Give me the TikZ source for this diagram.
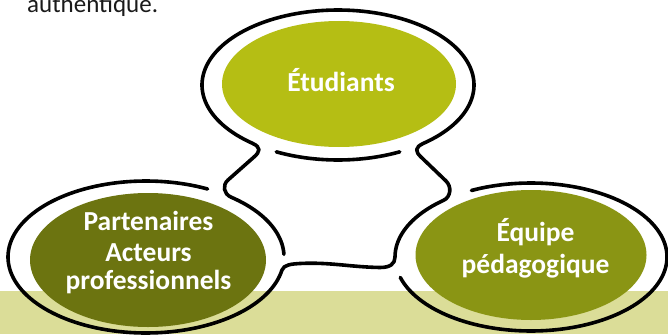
\documentclass[tikz,border=0pt]{standalone}
\usepackage{fontspec}
\setmainfont{Carlito}
\usetikzlibrary{shapes.geometric}
\definecolor{etuC}{RGB}{181,190,20}
\definecolor{parC}{RGB}{108,116,16}
\definecolor{equC}{RGB}{138,149,20}
\definecolor{bandC}{RGB}{219,221,152}
\definecolor{inkC}{RGB}{26,26,26}
\begin{document}
\begin{tikzpicture}[x=1pt,y=-1pt,
  ringline/.style={line width=3.6pt, line cap=round, line join=round, draw=black},
  blob/.style={ellipse, inner sep=0pt, draw=none},
  lbl/.style={text=white, font=\bfseries\fontsize{27.5}{29}\selectfont, anchor=base, inner sep=0pt},
]
\useasboundingbox (0,0) rectangle (668,334);
% bottom band
\fill[bandC] (0,291) rectangle (668,334);
% coloured ellipses
\node[blob, fill=etuC, minimum width=234pt, minimum height=126pt] (etu) at (339,84) {};
\node[blob, fill=parC, minimum width=236pt, minimum height=134pt] (par) at (148,260) {};
\node[blob, fill=equC, minimum width=231pt, minimum height=130pt] (equ) at (531,255) {};
% inner arc under the top ring
\draw[ringline] plot[domain=63:117, samples=30] ({338+136*cos(\x)},{85+75*sin(\x)});
% right ring outer arc
\draw[ringline] plot[domain=-116:164, samples=120] ({531+136*cos(\x)},{257+74*sin(\x)});
% big continuous outline
\draw[ringline]
  plot[domain=0:50, samples=25] ({146+138*cos(-2-\x)},{257+76*sin(-2-\x)})
  .. controls (223.7,193.9) and (222,185.3) .. (228,180)
  -- (254,157)
  .. controls (260,151.7) and (261.5,147.4) .. (252.4,143.3)
  -- plot[domain=129:411, samples=120] ({338+136*cos(\x)},{85+75*sin(\x)})
  .. controls (414.5,147.4) and (415.2,151.5) .. (421,157)
  -- (446,181)
  .. controls (451.8,186.5) and (450.9,197) .. (443.6,200.3)
  -- plot[domain=0:50, samples=25] ({531+136*cos(230-\x)},{257+74*sin(230-\x)})
  .. controls (395,264) and (390,267.5) .. (380,267.5)
  .. controls (350,267) and (330,262) .. (300,263.5)
  .. controls (292,264) and (283.7,264.5) .. (281.9,270.2)
  -- plot[domain=10:296.5, samples=120] ({146+138*cos(\x)},{257+76*sin(\x)});
% labels
\node[lbl] (t1) at (341,91.7) {Étudiants};
\node[lbl] (p1) at (148.5,230.5) {Partenaires};
\node[lbl] (p2) at (148.5,261.5) {Acteurs};
\node[lbl] (p3) at (148.5,289) {professionnels};
\node[lbl] (e1) at (535.5,241.7) {Équipe};
\node[lbl] (e2) at (535.5,273.3) {pédagogique};
\node[anchor=base west, inner sep=0pt, text=inkC, font=\fontsize{25}{30}\selectfont] (auth) at (27,12.7) {authentique.};
\end{tikzpicture}
\end{document}
